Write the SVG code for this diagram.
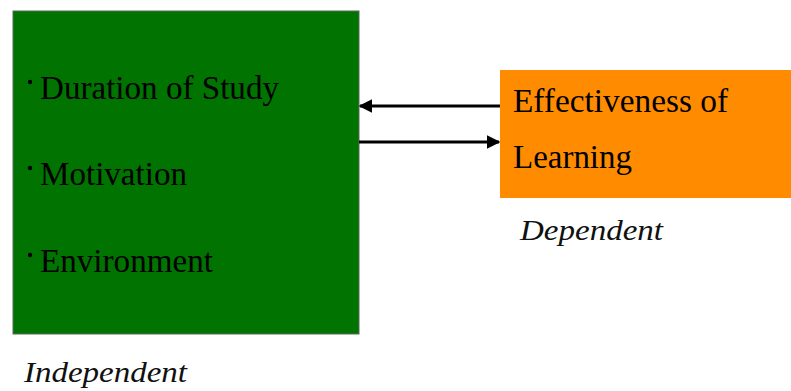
<svg xmlns="http://www.w3.org/2000/svg" width="791" height="391" viewBox="0 0 791 391">
<defs>
<style>
.t{font-family:"Liberation Serif","Times New Roman",serif;font-size:33px;fill:#000}
.i{font-family:"Liberation Serif","Times New Roman",serif;font-size:30px;font-style:italic;fill:#111}
.c{stroke:#000;stroke-width:3;fill:none}
</style>
<marker id="ah" viewBox="0 0 10 10" refX="9" refY="5" markerWidth="4.5" markerHeight="4.5" orient="auto" markerUnits="strokeWidth">
<path d="M0,0 L10,5 L0,10 z" fill="#000"/>
</marker>
</defs>
<rect width="791" height="391" fill="#fff"/>
<g id="independent">
<rect x="13" y="11" width="346" height="323" fill="#007300" stroke="#5a6a5a" stroke-width="1"/>
<circle cx="30" cy="82" r="2.2" fill="#000"/>
<text class="t" x="40" y="99" textLength="239" lengthAdjust="spacingAndGlyphs">Duration of Study</text>
<circle cx="30" cy="168" r="2.2" fill="#000"/>
<text class="t" x="40" y="185" textLength="147" lengthAdjust="spacingAndGlyphs">Motivation</text>
<circle cx="30" cy="255" r="2.2" fill="#000"/>
<text class="t" x="40" y="272" textLength="173" lengthAdjust="spacingAndGlyphs">Environment</text>
</g>
<g id="dependent">
<rect x="500" y="70" width="291" height="128" fill="#FF8C00"/>
<text class="t" x="513" y="112" textLength="215" lengthAdjust="spacingAndGlyphs">Effectiveness of</text>
<text class="t" x="513" y="168" textLength="119" lengthAdjust="spacingAndGlyphs">Learning</text>
</g>
<g id="labels">
<text class="i" x="520" y="240" textLength="143" lengthAdjust="spacingAndGlyphs">Dependent</text>
<text class="i" x="24" y="382" textLength="163" lengthAdjust="spacingAndGlyphs">Independent</text>
</g>
<g id="connectors">
<line class="c" x1="500" y1="106" x2="360" y2="106" marker-end="url(#ah)"/>
<line class="c" x1="359" y1="142" x2="499" y2="142" marker-end="url(#ah)"/>
</g>
</svg>
